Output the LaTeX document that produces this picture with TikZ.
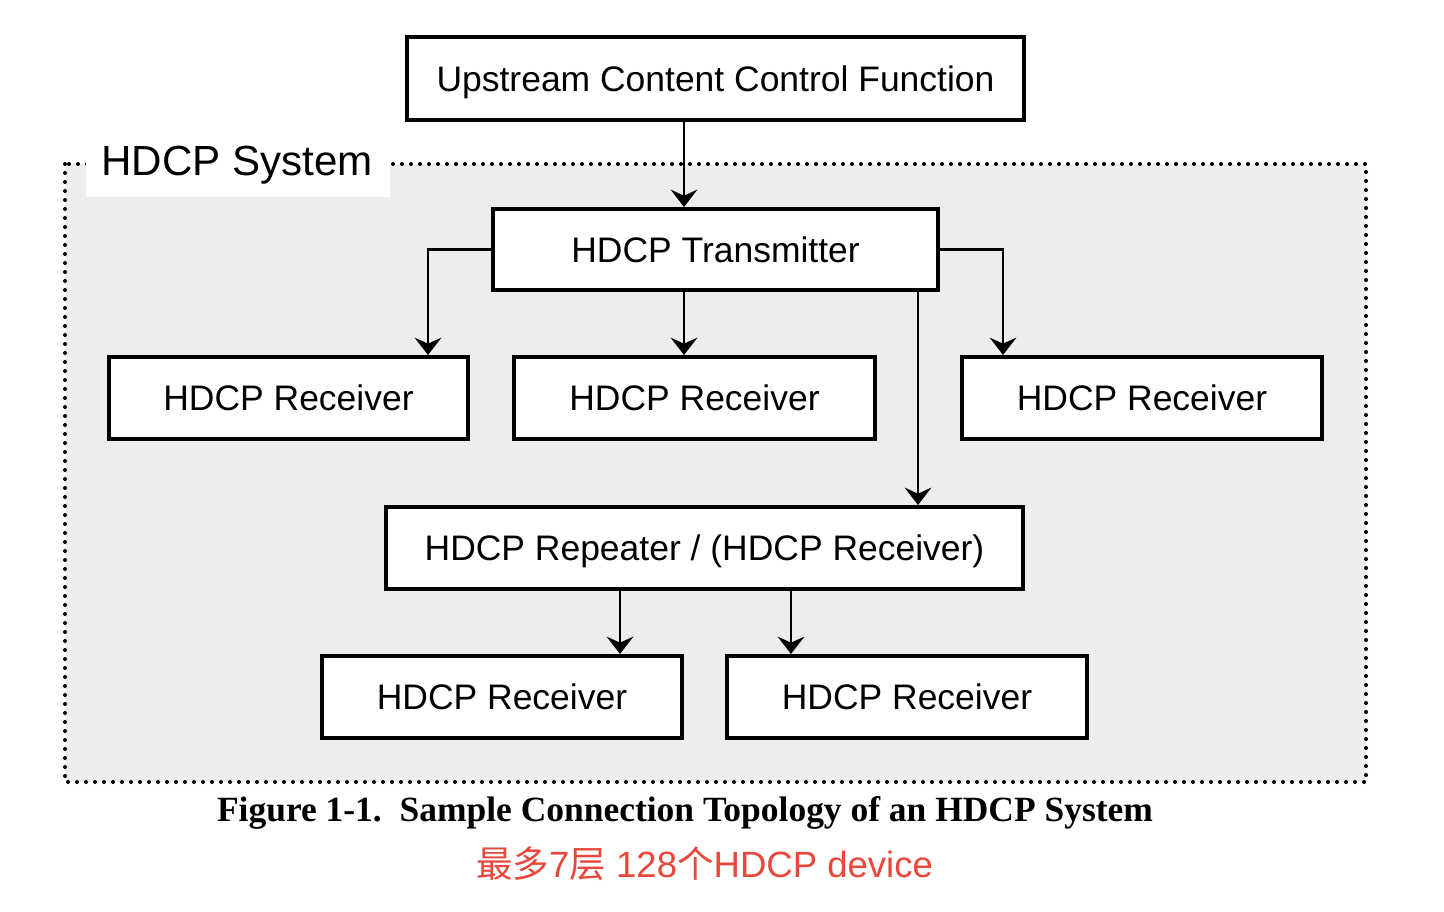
\documentclass[tikz,border=0pt]{standalone}
\usepackage{fontspec}
\setmainfont{Liberation Sans}
\newfontfamily\capfont{Liberation Serif}
\newfontfamily\cjk{Noto Sans CJK SC}
\usetikzlibrary{arrows.meta}
\definecolor{sysfill}{HTML}{EDEDED}
\definecolor{redtxt}{HTML}{E8483B}
\tikzset{
  pbox/.style={draw, line width=3pt, fill=white, inner sep=0pt,
    minimum height=82*0.75pt, text height=19pt, text depth=0pt,
    font=\fontsize{26.6pt}{30pt}\selectfont},
  conn/.style={line width=1.8pt, -{Stealth[length=13pt,width=20pt,inset=4.5pt]}},
  sysframe/.style={fill=sysfill, draw, line width=3pt, line cap=round,
    dash pattern=on 0pt off 6.75pt},
}
\begin{document}
\begin{tikzpicture}[x=0.75pt,y=-0.75pt]
\useasboundingbox (0,0) rectangle (1444,912);
% system frame
\path[sysframe] (65,164) rectangle (1366,782);
\fill[white] (86,150) rectangle (390,197);
\node[anchor=base, font=\fontsize{31.6pt}{36pt}\selectfont] (syslbl) at (237,176) {HDCP System};
% boxes
\node[pbox, minimum width=617*0.75pt, minimum height=83*0.75pt] (up) at (715.5,78.5) {Upstream Content Control Function};
\node[pbox, minimum width=445*0.75pt, minimum height=81*0.75pt] (tx) at (715.5,249.5) {HDCP Transmitter};
\node[pbox, minimum width=359*0.75pt] (r1) at (288.5,398) {HDCP Receiver};
\node[pbox, minimum width=361*0.75pt] (r2) at (694.5,398) {HDCP Receiver};
\node[pbox, minimum width=360*0.75pt] (r3) at (1142,398) {HDCP Receiver};
\node[pbox, minimum width=637*0.75pt] (rep) at (704.5,548) {HDCP Repeater / (HDCP Receiver)};
\node[pbox, minimum width=360*0.75pt] (r4) at (502,697) {HDCP Receiver};
\node[pbox, minimum width=360*0.75pt] (r5) at (907,697) {HDCP Receiver};
% connector columns
\coordinate (c1) at (684,0);
\coordinate (c2) at (428,0);
\coordinate (c3) at (1003,0);
\coordinate (c4) at (918,0);
\coordinate (c5) at (620,0);
\coordinate (c6) at (791,0);
% connectors
\draw[conn] (up.south -| c1) -- (tx.north -| c1);
\draw[conn] (tx.west) -| (r1.north -| c2);
\draw[conn] (tx.south -| c1) -- (r2.north -| c1);
\draw[conn] (tx.east) -| (r3.north -| c3);
\draw[conn] (tx.south -| c4) -- (rep.north -| c4);
\draw[conn] (rep.south -| c5) -- (r4.north -| c5);
\draw[conn] (rep.south -| c6) -- (r5.north -| c6);
% captions
\node[anchor=base, font=\capfont\bfseries\fontsize{26.6pt}{30pt}\selectfont] (cap) at (685,821) {Figure 1-1.\ \ Sample Connection Topology of an HDCP System};
\node[anchor=base, text=redtxt, font=\fontsize{27.4pt}{30pt}\selectfont] (note) at (704.5,877) {{\cjk 最多}7{\cjk 层} 128{\cjk 个}HDCP device};
\end{tikzpicture}
\end{document}
